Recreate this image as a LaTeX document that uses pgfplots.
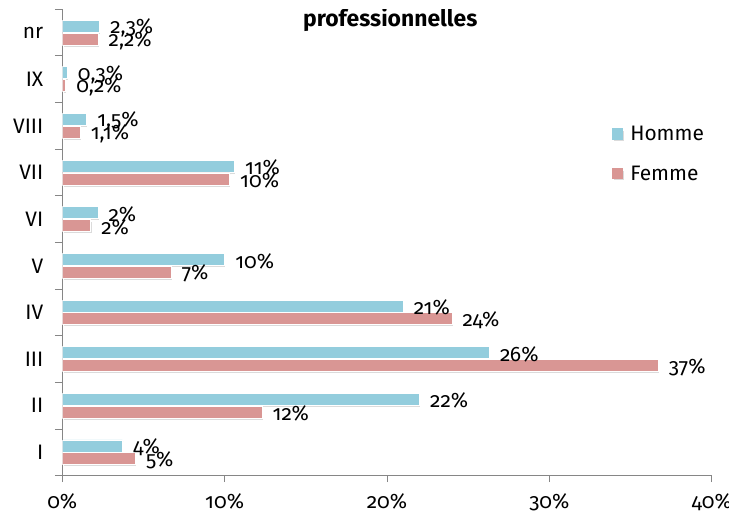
\documentclass[border=0pt]{standalone}
\usepackage{fontspec}
\setmainfont{Fira Sans}[Numbers=OldStyle]
\usepackage{pgfplots}
\usepackage{pgfplotstable}
\pgfplotsset{compat=1.18}
\definecolor{homme}{RGB}{147,205,221}
\definecolor{femme}{RGB}{217,150,148}
\definecolor{axgray}{RGB}{134,134,134}
\pgfplotstableread{
y x lab
0 3.7 4\%
1 22.0 22\%
2 26.3 26\%
3 21.0 21\%
4 10.0 10\%
5 2.2 2\%
6 10.6 11\%
7 1.5 1,5\%
8 0.3 0,3\%
9 2.3 2,3\%
}\homme
\pgfplotstableread{
y x lab
0 4.5 5\%
1 12.3 12\%
2 36.7 37\%
3 24.0 24\%
4 6.7 7\%
5 1.75 2\%
6 10.3 10\%
7 1.1 1,1\%
8 0.2 0,2\%
9 2.2 2,2\%
}\femme
\begin{document}
\begin{tikzpicture}[font=\fontsize{21}{25}\selectfont]
\begin{axis}[
  name=ax,
  scale only axis,
  width=649.4bp, height=466.4bp,
  xmin=0, xmax=40, ymin=-0.5, ymax=9.5,
  enlargelimits=false,
  axis x line*=bottom, axis y line*=left,
  axis line style={axgray, line width=1bp},
  tick align=outside,
  major tick length=6.5bp, minor tick length=7.5bp,
  xtick={0,10,20,30,40},
  xticklabel={\pgfmathprintnumber{\tick}\%},
  /pgf/number format/assume math mode=true,
  ytick={0,...,9},
  yticklabels={I,II,III,IV,V,VI,VII,VIII,IX,nr},
  minor ytick={-0.5,0.5,...,9.5},
  major x tick style={axgray, line width=1bp},
  major y tick style={draw=none},
  minor y tick style={axgray, line width=1bp},
  yticklabel style={xshift=-9bp},
  xticklabel style={yshift=-8bp},
  legend style={draw=none, fill=none, at={(0.846,0.755)}, anchor=north west,
    row sep=20bp, column sep=5bp, inner sep=0pt, font=\fontsize{21}{25}\selectfont,
    cells={anchor=west}},
  xbar, bar width=12bp,
  nodes near coords={\pgfplotspointmeta},
  point meta=explicit symbolic,
  nodes near coords style={anchor=west, xshift=7bp, yshift=-1.5bp, text=black, font=\fontsize{21}{25}\selectfont},
]
\addplot[xbar, bar width=12bp, bar shift=6.4bp, fill=homme, draw=white, line width=0.8bp,
  preaction={fill=black!14, transform canvas={xshift=1.2bp,yshift=-2bp}},
  legend image code/.code={\fill[homme] (0bp,-5.3bp) rectangle (10.6bp,5.3bp);}]
  table[x=x, y=y, meta=lab] {\homme};
\addlegendentry{Homme}
\addplot[xbar, bar width=12bp, bar shift=-6.4bp, fill=femme, draw=white, line width=0.8bp,
  preaction={fill=black!14, transform canvas={xshift=1.2bp,yshift=-2bp}},
  legend image code/.code={\fill[femme] (0bp,-5.3bp) rectangle (10.6bp,5.3bp);}]
  table[x=x, y=y, meta=lab] {\femme};
\addlegendentry{Femme}
\node[font=\bfseries\fontsize{23}{27}\selectfont, anchor=base] at (rel axis cs:0.505,0.963) {professionnelles};
\end{axis}
\pgfresetboundingbox
\path (ax.south west) ++(-62.3bp,-39.3bp) rectangle ++(729bp,515bp);
\end{tikzpicture}
\end{document}
